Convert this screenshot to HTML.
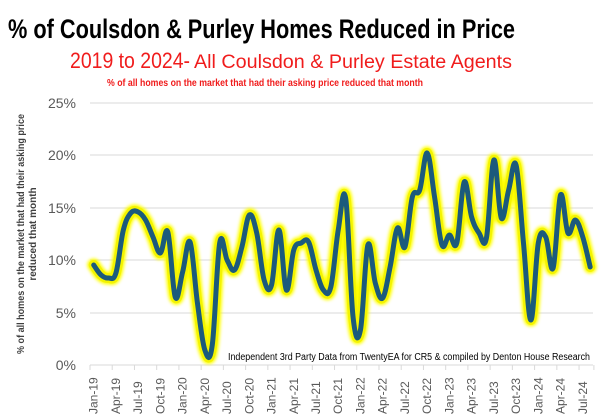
<!DOCTYPE html>
<html><head><meta charset="utf-8"><style>
html,body{margin:0;padding:0;background:#fff;}
svg{display:block;}
text{font-family:"Liberation Sans",sans-serif;}
</style></head><body>
<svg id="s" width="602" height="418" viewBox="0 0 602 418" xmlns="http://www.w3.org/2000/svg">
<defs><filter id="g" x="-5%" y="-10%" width="110%" height="120%"><feGaussianBlur stdDeviation="1.5"/></filter></defs>
<text x="8" y="38" font-size="27" font-weight="bold" fill="#000" textLength="507" lengthAdjust="spacingAndGlyphs">% of Coulsdon &amp; Purley Homes Reduced in Price</text>
<text x="70" y="68" font-size="22" fill="#f01c1c" textLength="120" lengthAdjust="spacingAndGlyphs">2019 to 2024-</text>
<text x="194" y="68" font-size="19" fill="#f01c1c" textLength="318" lengthAdjust="spacingAndGlyphs">All Coulsdon &amp; Purley Estate Agents</text>
<text x="107" y="86" font-size="10" font-weight="bold" fill="#f01c1c" textLength="316" lengthAdjust="spacingAndGlyphs">% of all homes on the market that had their asking price reduced that month</text>
<g stroke="#d9d9d9" stroke-width="1">
<line x1="90" x2="593" y1="103" y2="103"/><line x1="90" x2="593" y1="155" y2="155"/><line x1="90" x2="593" y1="208" y2="208"/><line x1="90" x2="593" y1="260" y2="260"/><line x1="90" x2="593" y1="313" y2="313"/><line x1="90" x2="593" y1="365" y2="365"/>
</g>
<g font-size="14" fill="#595959" text-anchor="end">
<text x="76" y="108">25%</text><text x="76" y="160">20%</text><text x="76" y="213">15%</text><text x="76" y="265">10%</text><text x="76" y="318">5%</text><text x="76" y="370">0%</text>
</g>
<g font-size="10" font-weight="bold" fill="#404040" text-anchor="middle">
<text transform="translate(24,234) rotate(-90)" textLength="240" lengthAdjust="spacingAndGlyphs">% of all homes on the market that had their asking price</text>
<text transform="translate(36,234) rotate(-90)">reduced that month</text>
</g>
<g id="ticks" stroke="#d9d9d9"></g>
<g id="xl" font-size="12" fill="#595959"></g>
<path id="glow" fill="none" stroke="#ffff00" stroke-width="13" stroke-linejoin="round" stroke-linecap="round" filter="url(#g)"/>
<path id="glow2" fill="none" stroke="#f4f400" stroke-width="10" stroke-linejoin="round" stroke-linecap="round"/>
<path id="ln" fill="none" stroke="#1b5a7c" stroke-width="5" stroke-linejoin="round" stroke-linecap="round"/>
<text x="228" y="360" font-size="10" fill="#000" textLength="362" lengthAdjust="spacingAndGlyphs">Independent 3rd Party Data from TwentyEA for CR5 &amp; compiled by Denton House Research</text>
</svg>
<script>
var ys=[265,275,278,273,230,213,212,220,237,253,232,297,272,242,303,350,345,243,260,270,247,215,233,280,285,230,290,250,243,242,270,290,287,230,198,317,330,245,283,298,267,228,247,197,190,153,197,245,235,243,182,217,233,238,160,218,190,165,243,320,243,237,268,195,233,220,237,267];
var x0=93.7,st=7.41,p=[];
for(var i=0;i<ys.length;i++)p.push([x0+st*i,ys[i]]);
var d="M"+p[0][0]+","+p[0][1];
for(var i=0;i<p.length-1;i++){var a=p[Math.max(i-1,0)],b=p[i],c=p[i+1],e=p[Math.min(i+2,p.length-1)],k=0.18;
d+=" C"+(b[0]+(c[0]-a[0])*k)+","+(b[1]+(c[1]-a[1])*k)+" "+(c[0]-(e[0]-b[0])*k)+","+(c[1]-(e[1]-b[1])*k)+" "+c[0]+","+c[1];}
["glow","glow2","ln"].forEach(function(id){document.getElementById(id).setAttribute("d",d);});
var ns="http://www.w3.org/2000/svg",m=["Jan","Apr","Jul","Oct"],tg=document.getElementById("ticks"),xl=document.getElementById("xl");
for(var i=0;i<=68;i++){var x=x0-st/2+st*i;var l=document.createElementNS(ns,"line");l.setAttribute("x1",x);l.setAttribute("x2",x);l.setAttribute("y1",365);l.setAttribute("y2",370);if(i%3==0||i==68)tg.appendChild(l);}
for(var i=0;i<68;i+=3){var t=document.createElementNS(ns,"text");var x=x0+st*i+4;t.setAttribute("transform","translate("+x+",414) rotate(-90)");t.textContent=m[(i/3)%4]+"-"+(19+Math.floor(i/12));xl.appendChild(t);}
</script>
</body></html>
